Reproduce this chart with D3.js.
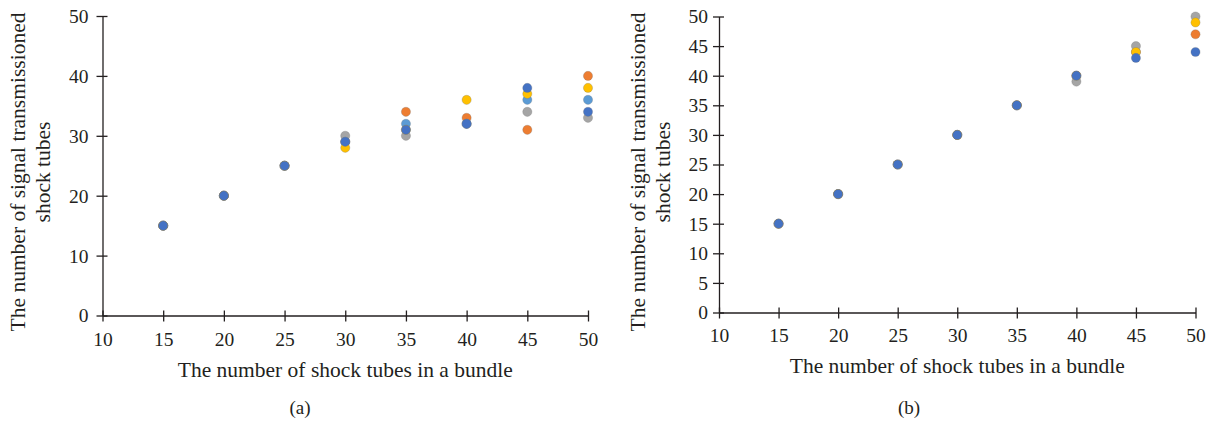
<!DOCTYPE html>
<html>
<head>
<meta charset="utf-8">
<script src="https://cdn.jsdelivr.net/npm/d3@7/dist/d3.min.js"></script>
<style>
  html, body { margin: 0; padding: 0; background: #fff; }
  svg { display: block; }
  text { font-family: "Liberation Serif", "DejaVu Serif", serif; fill: #231f20; }
</style>
</head>
<body>
<svg id="chart" width="1210" height="421"></svg>
<script>
// ---- Data ----
const xValues = [15, 20, 25, 30, 35, 40, 45, 50];
const xTicks = [10, 15, 20, 25, 30, 35, 40, 45, 50];
const yTicksA = [0, 10, 20, 30, 40, 50];
const yTicksB = [0, 5, 10, 15, 20, 25, 30, 35, 40, 45, 50];

// Panel (a) series (draw order: first drawn at bottom)
const orangeA    = [15, 20, 25, 29, 34, 33, 31, 40];
const grayA      = [15, 20, 25, 30, 30, 32, 34, 33];
const lightBlueA = [15, 20, 25, 29, 32, 32, 36, 36];
const yellowA    = [15, 20, 25, 28, 31, 36, 37, 38];
const blueA      = [15, 20, 25, 29, 31, 32, 38, 34];

// Panel (b) series
const orangeB = [15, 20, 25, 30, 35, 40, 44, 47];
const grayB   = [15, 20, 25, 30, 35, 39, 45, 50];
const yellowB = [15, 20, 25, 30, 35, 40, 44, 49];
const blueB   = [15, 20, 25, 30, 35, 40, 43, 44];

const xTitle = "The number of shock tubes in a bundle";
const yTitle = ["The number of signal transmissioned", "shock tubes"];
const captions = ["(a)", "(b)"];

const colors = {
  blue: "#4472C4", orange: "#ED7D31", gray: "#A5A5A5",
  yellow: "#FFC000", lightBlue: "#5B9BD5"
};

const seriesA = [
  { values: orangeA, color: colors.orange },
  { values: grayA, color: colors.gray },
  { values: lightBlueA, color: colors.lightBlue },
  { values: yellowA, color: colors.yellow },
  { values: blueA, color: colors.blue }
];
const seriesB = [
  { values: orangeB, color: colors.orange },
  { values: grayB, color: colors.gray },
  { values: yellowB, color: colors.yellow },
  { values: blueB, color: colors.blue }
];

const svg = d3.select("#chart");

function panel(cfg) {
  const x = d3.scaleLinear().domain([10, 50]).range([cfg.x0, cfg.x1]);
  const y = d3.scaleLinear().domain([0, 50]).range([cfg.y0, cfg.y1]);
  const g = svg.append("g");

  // X axis
  const xa = g.append("g").attr("transform", `translate(0,${cfg.y0})`)
    .call(d3.axisBottom(x).tickValues(xTicks).tickSize(0).tickFormat(d3.format("d")));
  xa.select(".domain").attr("stroke", "#231f20").attr("stroke-width", 1.3);
  xa.selectAll(".tick text").remove();
  xa.selectAll(".tick").append("line")
    .attr("y1", -5).attr("y2", 6).attr("stroke", "#231f20").attr("stroke-width", 1.3);
  xa.selectAll(".tick").append("text")
    .attr("y", cfg.xLabelDy).attr("text-anchor", "middle")
    .style("font-size", "19.5px").text(d => d);

  // Y axis
  const ya = g.append("g").attr("transform", `translate(${cfg.x0},0)`)
    .call(d3.axisLeft(y).tickValues(cfg.yTicks).tickSize(0).tickFormat(d3.format("d")));
  ya.select(".domain").attr("stroke", "#231f20").attr("stroke-width", 1.3);
  ya.selectAll(".tick text").remove();
  ya.selectAll(".tick").append("line")
    .attr("x1", -6).attr("x2", 5).attr("stroke", "#231f20").attr("stroke-width", 1.3);
  ya.selectAll(".tick").append("text")
    .attr("x", -cfg.yLabelDx).attr("dy", "0.33em").attr("text-anchor", "end")
    .style("font-size", "19.5px").text(d => d);

  // Points
  cfg.series.forEach(s => {
    g.append("g").selectAll("circle").data(xValues.map((xv, i) => [xv, s.values[i]]))
      .join("circle")
      .attr("cx", d => x(d[0])).attr("cy", d => y(d[1])).attr("r", 4.6)
      .attr("fill", s.color)
      .attr("stroke", "rgba(110,110,110,0.45)").attr("stroke-width", 0.6);
  });

  // X title
  g.append("text").attr("x", (cfg.x0 + cfg.x1) / 2).attr("y", cfg.xTitleY)
    .attr("text-anchor", "middle").style("font-size", "21.5px").text(xTitle);

  // Y title
  const yt = g.append("text")
    .attr("transform", `translate(${cfg.yTitleX},${cfg.yTitleCy}) rotate(-90)`)
    .attr("text-anchor", "middle").style("font-size", "21.5px");
  yt.append("tspan").attr("x", 0).attr("y", 0).text(yTitle[0]);
  yt.append("tspan").attr("x", 0).attr("y", 25).text(yTitle[1]);

  // Caption
  g.append("text").attr("x", cfg.capX).attr("y", 414)
    .attr("text-anchor", "middle").style("font-size", "19px").text(cfg.caption);
}

panel({
  x0: 102.5, x1: 588, y0: 315.5, y1: 16,
  yTicks: yTicksA, series: seriesA,
  xLabelDy: 30, yLabelDx: 14,
  xTitleY: 377, yTitleX: 25, yTitleCy: 172,
  capX: 300, caption: captions[0]
});
panel({
  x0: 719, x1: 1195.5, y0: 312.5, y1: 16.5,
  yTicks: yTicksB, series: seriesB,
  xLabelDy: 29, yLabelDx: 11,
  xTitleY: 373, yTitleX: 645, yTitleCy: 172,
  capX: 909, caption: captions[1]
});
</script>
</body>
</html>
